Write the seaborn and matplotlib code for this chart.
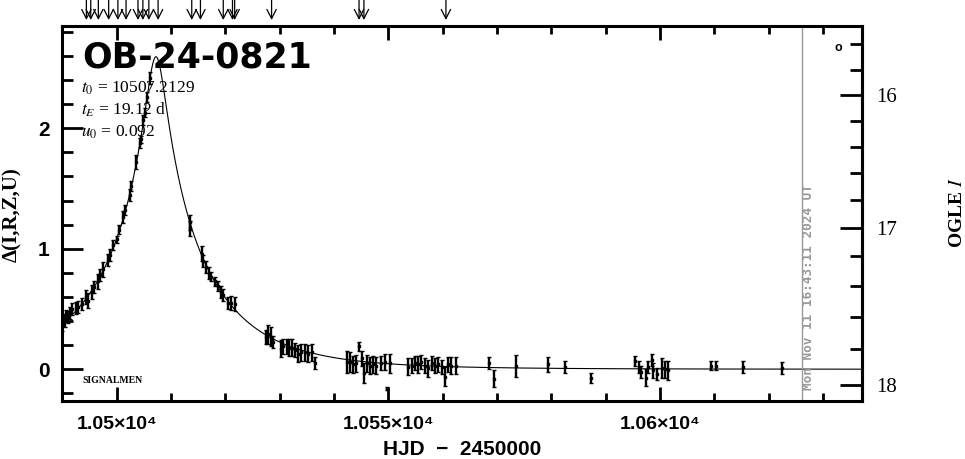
import numpy as np
import matplotlib
matplotlib.use("Agg")
import matplotlib.pyplot as plt
import seaborn as sns
from matplotlib.ticker import MultipleLocator, FuncFormatter, FixedLocator

# event and model parameters (as printed on the chart)
event_name = "OB-24-0821"
t0 = 10507.2129
tE = 19.12
u0 = 0.092

# photometry: HJD-2450000, delta, error
hjd = [10489.9, 10490.1, 10490.4, 10490.6, 10491.0, 10491.3, 10491.8, 10492.4, 10492.9, 10493.5,
       10494.4, 10494.7, 10495.5, 10495.8, 10496.6, 10496.9, 10497.5, 10498.4, 10498.8, 10499.3,
       10500.1, 10500.4, 10501.2, 10501.6, 10502.4, 10502.7, 10503.6, 10504.2, 10504.5, 10504.8,
       10505.2, 10505.5, 10506.1,
       10513.4, 10513.5, 10515.6, 10515.9, 10516.5, 10517.0, 10517.4, 10518.0, 10518.7, 10519.2,
       10519.6, 10520.5, 10521.1, 10521.7,
       10527.4, 10527.9, 10528.3, 10528.7, 10530.3, 10530.6, 10531.3, 10531.7, 10532.2, 10532.8,
       10533.4, 10534.0, 10534.6, 10535.2, 10535.9, 10536.5,
       10542.4, 10542.9, 10543.5, 10544.1, 10544.6, 10545.1, 10545.5, 10546.0, 10546.6, 10547.2,
       10547.8, 10548.6, 10549.4, 10549.8, 10550.3,
       10553.6, 10554.3, 10554.9, 10555.5, 10556.1, 10556.7, 10557.3, 10558.0, 10558.6, 10559.2,
       10559.8, 10560.4, 10561.0, 10561.6, 10562.4,
       10568.6, 10569.4, 10573.5, 10579.4, 10582.5, 10587.4,
       10595.4, 10596.2, 10596.6, 10597.4, 10597.8, 10598.5, 10598.8, 10599.4, 10600.3, 10600.9,
       10601.5, 10609.5, 10610.4, 10615.3, 10622.4]
delta = [0.37, 0.41, 0.40, 0.44, 0.43, 0.47, 0.50, 0.51, 0.52, 0.54,
         0.60, 0.57, 0.64, 0.68, 0.73, 0.78, 0.83, 0.91, 0.95, 1.03,
         1.08, 1.16, 1.26, 1.32, 1.45, 1.52, 1.72, 1.88, 1.91, 2.07,
         2.13, 2.26, 2.42,
         1.22, 1.17, 0.96, 0.90, 0.85, 0.80, 0.77, 0.73, 0.69, 0.64,
         0.62, 0.55, 0.55, 0.54,
         0.27, 0.29, 0.27, 0.23, 0.17, 0.19, 0.19, 0.18, 0.18, 0.16,
         0.13, 0.14, 0.14, 0.13, 0.14, 0.05,
         0.06, 0.06, 0.04, 0.05, 0.19, 0.09, -0.03, 0.05, 0.03, 0.04,
         0.03, 0.05, 0.06, -0.16, 0.05,
         0.02, 0.03, 0.05, 0.04, 0.06, 0.03, 0.01, 0.05, 0.03, 0.04,
         0.02, -0.06, 0.04, 0.03, 0.03,
         0.05, -0.08, 0.03, 0.04, 0.02, -0.07,
         0.07, 0.02, -0.02, -0.07, 0.02, 0.08, -0.01, -0.04, 0.01, 0.00,
         -0.01, 0.03, 0.03, 0.02, 0.01]
delta_err = [0.05, 0.05, 0.05, 0.05, 0.05, 0.05, 0.05, 0.05, 0.05, 0.05,
             0.06, 0.06, 0.06, 0.05, 0.06, 0.05, 0.06, 0.05, 0.05, 0.04,
             0.03, 0.04, 0.05, 0.04, 0.05, 0.04, 0.06, 0.04, 0.03, 0.04,
             0.04, 0.04, 0.05,
             0.06, 0.06, 0.06, 0.05, 0.05, 0.05, 0.04, 0.04, 0.04, 0.05,
             0.05, 0.05, 0.06, 0.06,
             0.06, 0.08, 0.08, 0.05, 0.07, 0.06, 0.06, 0.07, 0.07, 0.06,
             0.07, 0.07, 0.07, 0.07, 0.07, 0.05,
             0.09, 0.08, 0.07, 0.07, 0.04, 0.06, 0.08, 0.07, 0.07, 0.07,
             0.07, 0.06, 0.07, 0.01, 0.08,
             0.07, 0.06, 0.06, 0.07, 0.06, 0.06, 0.07, 0.06, 0.06, 0.06,
             0.06, 0.08, 0.06, 0.07, 0.07,
             0.05, 0.07, 0.09, 0.06, 0.05, 0.04,
             0.04, 0.05, 0.05, 0.07, 0.05, 0.05, 0.06, 0.05, 0.08, 0.07,
             0.08, 0.04, 0.04, 0.05, 0.05]

# epochs marked by arrows on top
arrow_hjd = [10494.4, 10495.2, 10496.6, 10498.5, 10500.2, 10501.7, 10503.9, 10504.8,
             10505.9, 10507.6, 10513.8, 10515.4, 10519.6, 10521.3, 10521.7, 10528.5,
             10544.6, 10545.5, 10560.6]

now_hjd = 10626.2
now_label = "Mon Nov 11 16:43:11 2024 UT"

# OGLE I magnitude scale attached to delta
base_mag = 18.0
blend_flux = 0.35
delta_zero = 0.338
mag_major = [16, 17, 18]
mag_minor = [15.6, 15.8, 16.2, 16.4, 16.6, 16.8, 17.2, 17.4, 17.6, 17.8]


def delta_to_mag(d):
    d = np.asarray(d, dtype=float)
    return base_mag - 2.5 * np.log10(blend_flux + 10 ** ((d - delta_zero) / 2.5))


def mag_to_delta(m):
    m = np.asarray(m, dtype=float)
    f = np.clip(10 ** (-0.4 * (m - base_mag)) - blend_flux, 1e-6, None)
    return 2.5 * np.log10(f) + delta_zero


def paczynski_delta(t):
    u = np.sqrt(u0 ** 2 + ((t - t0) / tE) ** 2)
    amp = (u ** 2 + 2) / (u * np.sqrt(u ** 2 + 4))
    return 2.5 * np.log10(amp)


sns.set_theme(style="ticks")
plt.rcParams["font.family"] = ["Liberation Sans", "DejaVu Sans"]
plt.rcParams["mathtext.fontset"] = "stix"
plt.rcParams["text.color"] = "black"
plt.rcParams["axes.labelcolor"] = "black"
plt.rcParams["xtick.color"] = "black"
plt.rcParams["ytick.color"] = "black"
plt.rcParams["axes.edgecolor"] = "black"

fig = plt.figure(figsize=(9.65, 4.59), dpi=100)
ax = fig.add_axes([0.0642, 0.1264, 0.829, 0.817])

xmin, xmax = 10489.9, 10637.2
t_model = np.linspace(xmin, xmax, 2000)
sns.lineplot(x=t_model, y=paczynski_delta(t_model), ax=ax, color="black", lw=0.8)

ax.errorbar(hjd, delta, yerr=delta_err, fmt="s", ms=1.6, color="black",
            ecolor="black", elinewidth=1.7, capsize=1.4, capthick=1.0)

ax.set_xlim(xmin, xmax)
ax.set_ylim(-0.263, 2.849)

ax.axvline(now_hjd, color="#999999", lw=1.0)
ax.text(now_hjd + 1.2, -0.172, now_label, rotation=90, ha="center", va="bottom",
        fontsize=9.2, color="#999999", fontweight="bold", family="DejaVu Sans Mono")

# axes look
for sp in ax.spines.values():
    sp.set_linewidth(2.2)
    sp.set_color("black")
ax.xaxis.set_major_locator(MultipleLocator(50))
ax.xaxis.set_minor_locator(MultipleLocator(10))
ax.yaxis.set_major_locator(MultipleLocator(1))
ax.yaxis.set_minor_locator(MultipleLocator(0.2))
ax.xaxis.set_major_formatter(FuncFormatter(
    lambda v, p: ("%g" % (v / 1e4)) + "\u00d710\u2074"))
ax.tick_params(axis="x", which="major", direction="in", length=10, width=2,
               top=True, bottom=True, pad=11, labelsize=14)
ax.tick_params(axis="x", which="minor", direction="in", length=6, width=2,
               top=True, bottom=True)
ax.tick_params(axis="y", which="major", direction="in", length=15, width=2,
               left=True, right=False, pad=9, labelsize=15)
ax.tick_params(axis="y", which="minor", direction="in", length=8, width=2,
               left=True, right=False)
for lab in ax.get_xticklabels() + ax.get_yticklabels():
    lab.set_fontweight("bold")

sec = ax.secondary_yaxis("right", functions=(delta_to_mag, mag_to_delta))
sec.yaxis.set_major_locator(FixedLocator(mag_major))
sec.yaxis.set_minor_locator(FixedLocator(mag_minor))
sec.spines["right"].set_linewidth(2.2)
sec.tick_params(which="major", direction="in", length=16, width=2, pad=10, labelsize=15)
sec.tick_params(which="minor", direction="in", length=9, width=2)
for lab in sec.get_yticklabels():
    lab.set_family(["Liberation Serif", "DejaVu Serif"])

ax.set_xlabel("HJD  \u2212  2450000", fontsize=15, fontweight="bold")
ax.xaxis.set_label_coords(0.5, -0.105)
ax.set_ylabel("\u0394(I,R,Z,U)", fontsize=15, fontweight="bold",
              family=["Liberation Serif", "DejaVu Serif"])
ax.yaxis.set_label_coords(-0.05, 0.496)
ax.text(1.119, 0.501, r"OGLE $\it{I}$", transform=ax.transAxes, rotation=90,
        ha="center", va="center", fontsize=14, fontweight="bold",
        family=["Liberation Serif", "DejaVu Serif"])

# annotations
ax.text(0.025, 0.888, event_name, transform=ax.transAxes, fontsize=25,
        fontweight="bold", family="DejaVu Sans", va="baseline")
param_lines = [r"$t_0$ = %.4f" % t0, r"$t_E$ = %.2f d" % tE, r"$u_0$ = %.3f" % u0]
for i, s in enumerate(param_lines):
    ax.text(0.024, 0.822 - 0.059 * i, s, transform=ax.transAxes, fontsize=12.5,
            family=["Liberation Serif", "DejaVu Serif"], va="baseline")
ax.text(0.025, 0.048, "SIGNALMEN", transform=ax.transAxes, fontsize=7,
        fontweight="bold", family=["Liberation Serif", "DejaVu Serif"], va="baseline")
ax.text(0.970, 0.941, "o", transform=ax.transAxes, fontsize=9, fontweight="bold",
        ha="center", va="center")

for t in arrow_hjd:
    ax.annotate("", xy=(t, 1.016), xycoords=("data", "axes fraction"),
                xytext=(t, 1.069), textcoords=("data", "axes fraction"),
                arrowprops=dict(arrowstyle="->,head_length=0.55,head_width=0.28",
                                lw=0.9, color="black", shrinkA=0, shrinkB=0),
                annotation_clip=False)

fig.savefig("out.png", dpi=100)
